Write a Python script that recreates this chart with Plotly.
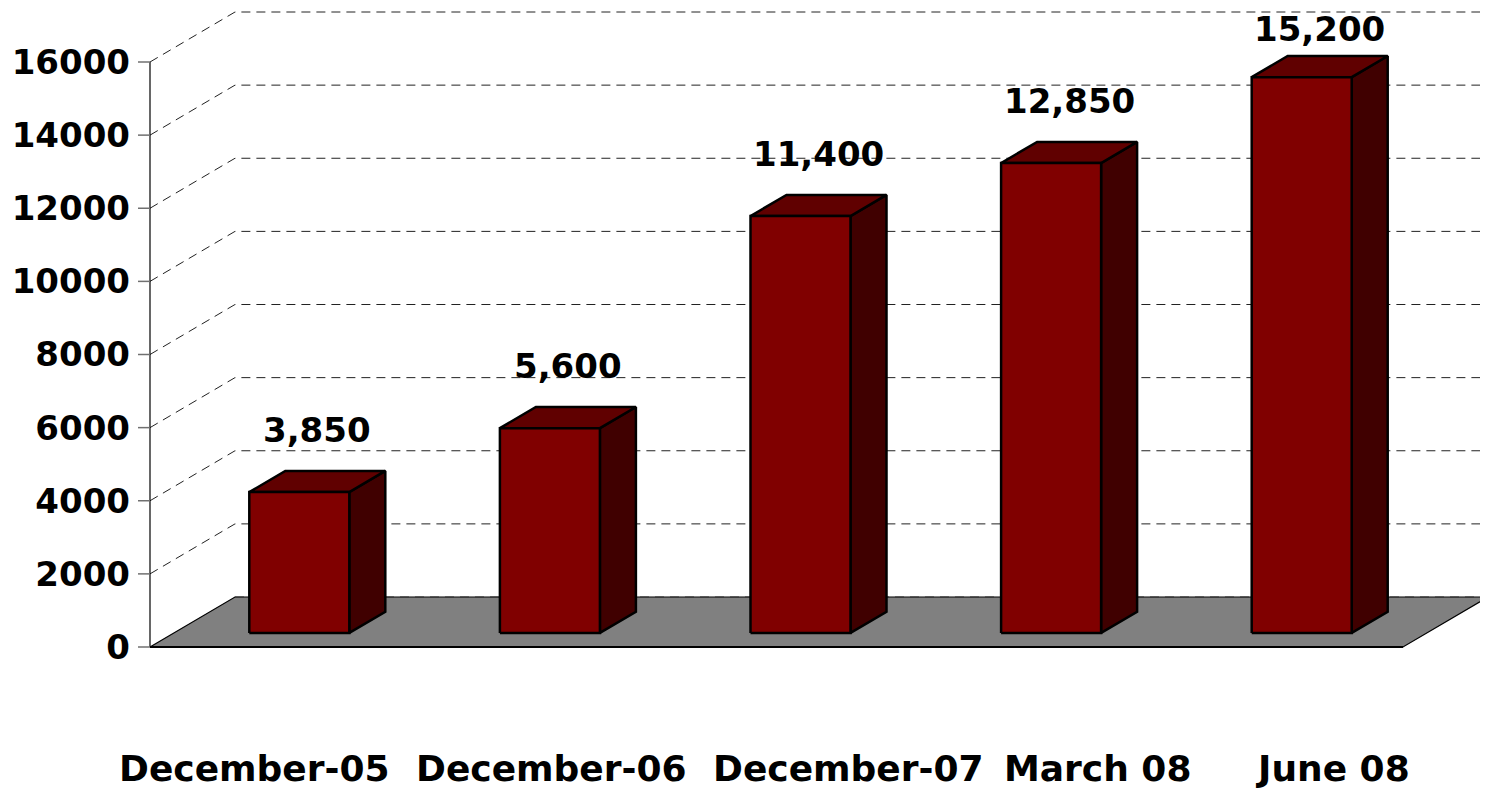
import plotly.graph_objects as go

# ---------------- data ----------------
categories = ["December-05", "December-06", "December-07", "March 08", "June 08"]
values = [3850, 5600, 11400, 12850, 15200]
value_labels = ["3,850", "5,600", "11,400", "12,850", "15,200"]
tick_values = [0, 2000, 4000, 6000, 8000, 10000, 12000, 14000, 16000]
tick_labels = ["0", "2000", "4000", "6000", "8000", "10000", "12000", "14000", "16000"]

# ---------------- layout geometry (pixels) ----------------
PAGE_OFF = 8               # default body margin of the html page
FIG_W, FIG_H = 1488 - PAGE_OFF, 791 - PAGE_OFF
MARGIN_L = 135 - PAGE_OFF
PLOT_H = 660 - PAGE_OFF
ZERO_PX = 647 - PAGE_OFF   # pixel row of value 0 on the front plane (within the figure)
PX_PER_UNIT = 585 / 16000  # vertical pixels per value unit
PX_PER_CAT = 250.6         # horizontal pixels per category
DEPTH_PX_X, DEPTH_PX_Y = 85, 50
BAR_W_PX = 100
BAR_FRONT, BAR_BACK = 24 / 85, 60 / 85   # depth fractions of the bars

DX = DEPTH_PX_X / PX_PER_CAT
DY = DEPTH_PX_Y / PX_PER_UNIT
BW = BAR_W_PX / PX_PER_CAT
YMAX = ZERO_PX / PX_PER_UNIT
YMIN = -(PLOT_H - ZERO_PX) / PX_PER_UNIT
XMIN = -0.5 - 15 / PX_PER_CAT
XMAX = XMIN + (FIG_W - MARGIN_L) / PX_PER_CAT
LEFT = -0.5
RIGHT = len(categories) - 0.5

FONT = "Verdana, DejaVu Sans, sans-serif"
FRONT_C, TOP_C, SIDE_C = "#800000", "#600000", "#400000"

fig = go.Figure()

def poly(xs, ys, fill, lw=2.5, lc="black"):
    fig.add_trace(go.Scatter(x=xs + [xs[0]], y=ys + [ys[0]], mode="lines", fill="toself",
                             fillcolor=fill, line=dict(color=lc, width=lw),
                             hoverinfo="skip", showlegend=False))

def line(xs, ys, color="black", width=1, dash="solid"):
    fig.add_trace(go.Scatter(x=xs, y=ys, mode="lines",
                             line=dict(color=color, width=width, dash=dash),
                             hoverinfo="skip", showlegend=False))

# floor
poly([LEFT, RIGHT, RIGHT + DX, LEFT + DX], [0, 0, DY, DY], "#808080", lw=1.2)
line([LEFT, RIGHT], [0, 0], width=2)

# gridlines (side wall diagonal + back wall)
for v in tick_values:
    if v == 0:
        line([LEFT + DX, XMAX], [DY, DY], color="#333333", dash="9px,6px")
    else:
        line([LEFT, LEFT + DX, XMAX], [v, v + DY, v + DY], color="#222222", dash="9px,6px")

# front value axis and ticks
line([LEFT, LEFT], [0, tick_values[-1]], width=1.2)
for v in tick_values:
    line([LEFT - 12 / PX_PER_CAT, LEFT], [v, v], color="#707070", width=1.5)

# 3D bars
f1x, f1y = BAR_FRONT * DX, BAR_FRONT * DY
ddx, ddy = (BAR_BACK - BAR_FRONT) * DX, (BAR_BACK - BAR_FRONT) * DY
for i, v in enumerate(values):
    x0 = i - BW / 2 + f1x
    x1 = x0 + BW
    y0 = f1y
    y1 = f1y + v
    poly([x1, x1, x1 + ddx, x1 + ddx], [y0, y1, y1 + ddy, y0 + ddy], SIDE_C)
    poly([x0, x1, x1 + ddx, x0 + ddx], [y1, y1, y1 + ddy, y1 + ddy], TOP_C)
    poly([x0, x1, x1, x0], [y0, y0, y1, y1], FRONT_C)

annotations = []
# value labels
for i, (v, lab) in enumerate(zip(values, value_labels)):
    ly = min(f1y + v + 62 / PX_PER_UNIT, YMAX - (29 - PAGE_OFF) / PX_PER_UNIT)
    annotations.append(dict(x=i + (BAR_FRONT + BAR_BACK) / 2 * DX, y=ly, xref="x", yref="y",
                            text=lab, showarrow=False, yanchor="middle", xanchor="center",
                            font=dict(family=FONT, size=34, color="black", weight="bold")))

# category labels
label_shift_px = [-21, 26, 72, 70, 55]
for i, (c, s) in enumerate(zip(categories, label_shift_px)):
    annotations.append(dict(x=i, y=-(FIG_H - PLOT_H - 1) / PLOT_H, xref="x", yref="paper",
                            text=c, showarrow=False, xshift=s, yanchor="bottom", xanchor="center",
                            borderpad=0,
                            font=dict(family=FONT, size=36, color="black", weight="bold")))

fig.update_layout(
    width=FIG_W, height=FIG_H,
    margin=dict(l=MARGIN_L, r=0, t=0, b=FIG_H - PLOT_H, pad=0),
    paper_bgcolor="white", plot_bgcolor="white",
    showlegend=False,
    annotations=annotations,
    xaxis=dict(range=[XMIN, XMAX], showgrid=False, zeroline=False, showticklabels=False,
               showline=False, ticks="", fixedrange=True),
    yaxis=dict(range=[YMIN, YMAX], showgrid=False, zeroline=False, showline=False,
               tickmode="array", tickvals=tick_values, ticktext=tick_labels, ticks="",
               ticklabelstandoff=4,
               tickfont=dict(family=FONT, size=34, color="black", weight="bold"),
               fixedrange=True),
)

fig.write_html("out.html")
